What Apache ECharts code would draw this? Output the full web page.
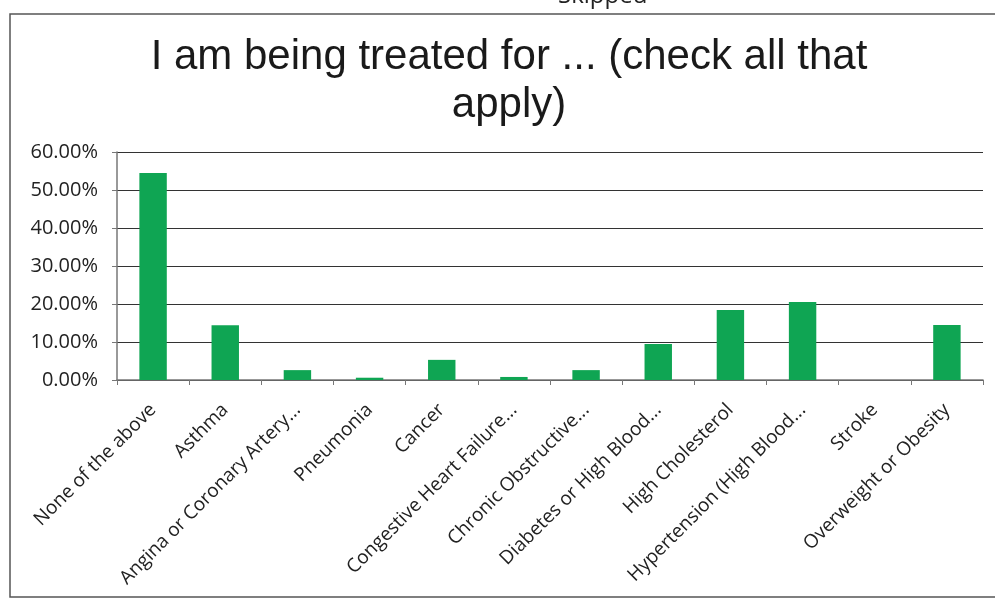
<!DOCTYPE html>
<html>
<head>
<meta charset="utf-8">
<script src="https://cdn.jsdelivr.net/npm/echarts@6/dist/echarts.min.js"></script>
<style>
html,body{margin:0;padding:0;background:#fff;}
#main{width:995px;height:601px;}
</style>
</head>
<body>
<div id="main"></div>
<script>
// categories (labels truncated as in the source)
var categories = ['None of the above', 'Asthma', 'Angina or Coronary Artery...', 'Pneumonia', 'Cancer',
    'Congestive Heart Failure...', 'Chronic Obstructive...', 'Diabetes or High Blood...',
    'High Cholesterol', 'Hypertension (High Blood...', 'Stroke', 'Overweight or Obesity'];

// percent of respondents
var values = [54.5, 14.4, 2.6, 0.6, 5.3, 0.8, 2.6, 9.5, 18.4, 20.5, 0, 14.5];

var yTicks = [0, 10, 20, 30, 40, 50, 60];

var chart = echarts.init(document.getElementById('main'));

var opt = {
    backgroundColor: '#fff',
    animation: false,
    title: {
        text: 'I am being treated for ... (check all that\napply)',
        left: 504,
        textAlign: 'center',
        top: 28,
        textStyle: {
            fontFamily: 'Liberation Sans',
            fontWeight: 'normal',
            fontSize: 42,
            color: '#1a1a1a',
            lineHeight: 48
        }
    },
    graphic: [
        {
            type: 'rect',
            shape: { x: 10, y: 14, width: 1000, height: 583 },
            style: { fill: 'none', stroke: '#555', lineWidth: 1.5 }
        },
        {
            type: 'text',
            left: 558,
            top: -16,
            style: { text: 'Skipped', fontFamily: 'Open Sans', fontSize: 24, fill: '#222' }
        }
    ],
    grid: {
        left: 117,
        right: 12,
        top: 152,
        bottom: 221
    },
    xAxis: {
        type: 'category',
        data: categories,
        axisLine: { lineStyle: { color: '#777', width: 1.5 } },
        axisTick: { show: true, alignWithLabel: false, length: 5, lineStyle: { color: '#777' } },
        axisLabel: {
            interval: 0,
            rotate: 45,
            margin: 27,
            fontFamily: 'Open Sans',
            fontSize: 19,
            color: '#222'
        }
    },
    yAxis: {
        type: 'value',
        min: yTicks[0],
        max: yTicks[yTicks.length - 1],
        interval: 10,
        axisLine: { show: true, lineStyle: { color: '#777', width: 1.5 } },
        axisTick: { show: true, length: 5, lineStyle: { color: '#777' } },
        splitLine: { lineStyle: { color: '#333', width: 1.2 } },
        axisLabel: {
            formatter: function (v) { return v.toFixed(2) + '%'; },
            fontFamily: 'Open Sans',
            fontSize: 20,
            color: '#222',
            margin: 19
        }
    },
    series: [{
        type: 'bar',
        data: values,
        barWidth: '38%',
        itemStyle: { color: '#0fa553' }
    }]
};
chart.setOption(opt);
</script>
</body>
</html>
